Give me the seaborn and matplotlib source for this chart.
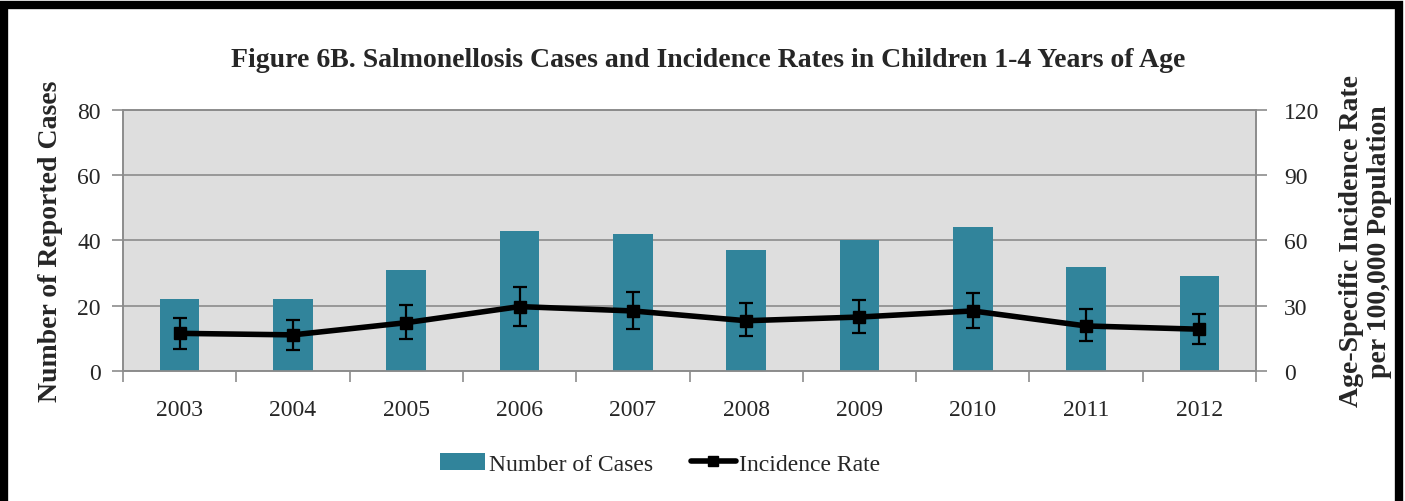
import numpy as np
import pandas as pd
import matplotlib
matplotlib.use("Agg")
import matplotlib.pyplot as plt
import seaborn as sns
from matplotlib.patches import Patch, Rectangle
from matplotlib.lines import Line2D

years = ["2003", "2004", "2005", "2006", "2007", "2008", "2009", "2010", "2011", "2012"]
cases = [22, 22, 31, 43, 42, 37, 40, 44, 32, 29]
rate = [17.3, 16.6, 22.2, 29.6, 27.6, 23.1, 24.8, 27.6, 20.7, 19.2]
rate_low = [10.3, 9.8, 14.7, 20.8, 19.4, 16.1, 17.3, 19.8, 13.8, 12.3]
rate_high = [24.5, 23.6, 30.3, 38.6, 36.2, 31.1, 32.8, 36.0, 28.4, 26.1]

df = pd.DataFrame({"year": years, "cases": cases, "rate": rate,
                   "lo": rate_low, "hi": rate_high})

sns.set_theme(style="white")
plt.rcParams["font.family"] = ["Liberation Serif", "DejaVu Serif"]

BAR = "#31849B"
BG = "#DEDEDE"
GRID = "#8C8C8C"

fig = plt.figure(figsize=(14.05, 5.02), dpi=100)
ax = fig.add_axes([0.0875, 0.259, 0.8065, 0.520])
ax.set_facecolor(BG)

sns.barplot(data=df, x="year", y="cases", ax=ax, color=BAR, saturation=1,
            width=0.35, zorder=3, linewidth=0, edgecolor="none")
ax.set_ylim(0, 80)
ax.set_yticks([0, 20, 40, 60, 80])
ax.set_xlim(-0.5, len(years) - 0.5)
ax.yaxis.grid(True, color=GRID, linewidth=1.2, zorder=0)
ax.set_axisbelow(True)
ax.set_xlabel("")
ax.set_ylabel("Number of Reported Cases", fontsize=20, fontweight="bold", labelpad=10)

ax.set_xticks(np.arange(len(years)))
ax.set_xticklabels(years)
ax.set_xticks(np.arange(len(years) + 1) - 0.5, minor=True)
ax.tick_params(axis="x", which="major", length=0, pad=20, labelsize=17)
ax.tick_params(axis="x", which="minor", length=8, width=1.2, color=GRID, direction="out")
ax.tick_params(axis="y", length=8, width=1.2, color=GRID, direction="out", pad=8, labelsize=17)
ax.tick_params(bottom=True, which="minor")
for s in ax.spines.values():
    s.set_color(GRID)
    s.set_linewidth(1.2)

ax2 = ax.twinx()
ax2.set_ylim(0, 120)
ax2.set_yticks([0, 30, 60, 90, 120])
pos = np.arange(len(years))
yerr = [df["rate"] - df["lo"], df["hi"] - df["rate"]]
ax2.errorbar(pos, df["rate"], yerr=yerr, color="black", linewidth=4,
             marker="s", markersize=8, elinewidth=1.6, capsize=5, capthick=1.6, zorder=5)
ax2.set_ylabel("Age-Specific Incidence Rate\nper 100,000 Population", fontsize=20,
               fontweight="bold", rotation=90, labelpad=14, linespacing=1.15)
ax2.yaxis.set_label_position("right")
ax2.tick_params(axis="y", length=8, width=1.2, color=GRID, direction="out", pad=12, labelsize=17)
for s in ax2.spines.values():
    s.set_color(GRID)
    s.set_linewidth(1.2)
ax2.grid(False)

fig.text(0.504, 0.88, "Figure 6B. Salmonellosis Cases and Incidence Rates in Children 1-4 Years of Age",
         ha="center", va="center", fontsize=20, fontweight="bold")

handles = [Patch(facecolor=BAR, edgecolor="none"),
           Line2D([0], [0], color="black", linewidth=4, marker="s", markersize=7)]
fig.legend(handles, ["Number of Cases", "Incidence Rate"], loc="center",
           bbox_to_anchor=(0.47, 0.074), ncol=2, frameon=False, fontsize=17,
           handlelength=1.9, handletextpad=0.15, columnspacing=1.6)

fig.patches.append(Rectangle((0.003, -0.05), 0.993, 1.038, transform=fig.transFigure,
                             fill=False, edgecolor="black", linewidth=6))

fig.savefig("out.png", dpi=100, facecolor="white")
